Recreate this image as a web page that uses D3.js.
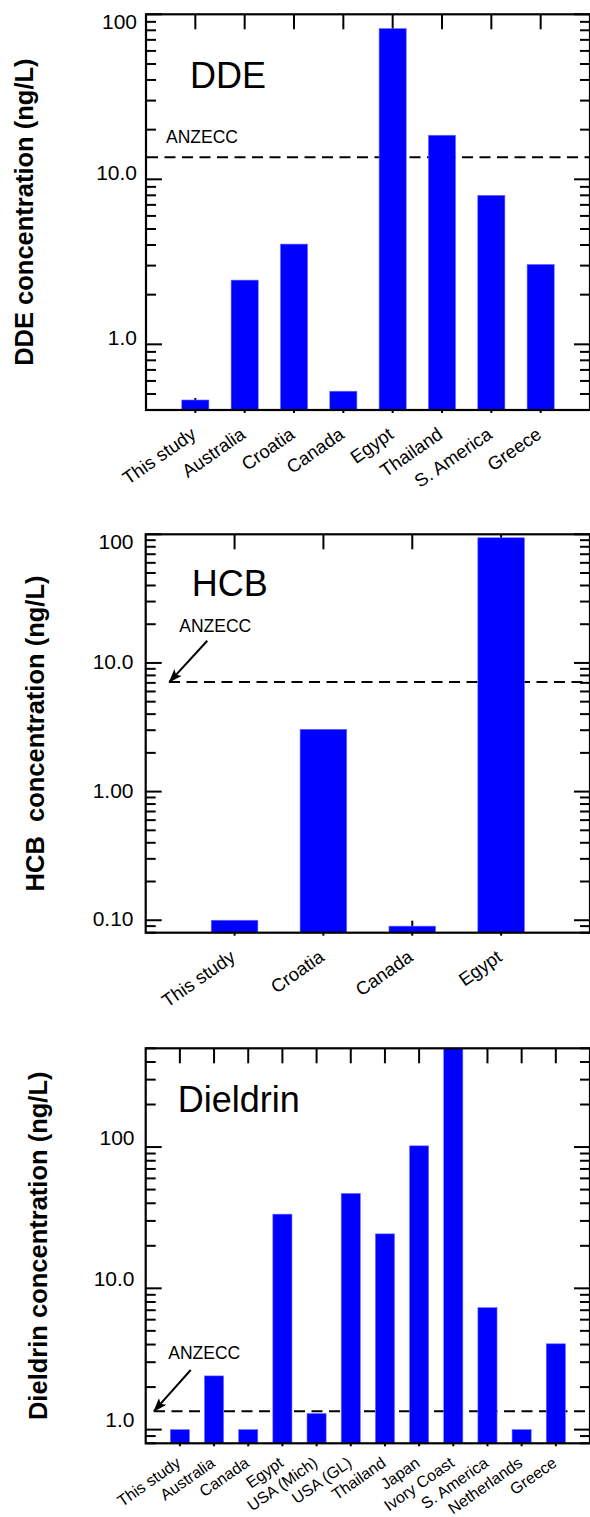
<!DOCTYPE html>
<html>
<head>
<meta charset="utf-8">
<script src="https://cdn.jsdelivr.net/npm/d3@7/dist/d3.min.js"></script>
<style>
  html, body { margin: 0; padding: 0; background: #fff; }
  svg { display: block; }
</style>
</head>
<body>
<svg id="chart" width="590" height="1517"></svg>
<script>
// ---------------- DATA ----------------
const ddeCategories = ["This study", "Australia", "Croatia", "Canada", "Egypt", "Thailand", "S. America", "Greece"];
const ddeValues = [0.46, 2.45, 4.05, 0.52, 82, 18.5, 8.0, 3.05];
const ddeAnzecc = 13.6;
const ddeDomain = [0.4, 100];
const ddeTickValues = [1, 10, 100];
const ddeTickLabels = ["1.0", "10.0", "100"];

const hcbCategories = ["This study", "Croatia", "Canada", "Egypt"];
const hcbValues = [0.10, 3.05, 0.09, 94];
const hcbAnzecc = 7.1;
const hcbDomain = [0.08, 100];
const hcbTickValues = [0.1, 1, 10, 100];
const hcbTickLabels = ["0.10", "1.00", "10.0", "100"];

const dieldrinCategories = ["This study", "Australia", "Canada", "Egypt", "USA (Mich)", "USA (GL)", "Thailand", "Japan", "Ivory Coast", "S. America", "Netherlands", "Greece"];
const dieldrinValues = [1.0, 2.4, 1.0, 33.5, 1.3, 47, 24.3, 102, 500, 7.3, 1.0, 4.05];
const dieldrinAnzecc = 1.35;
const dieldrinDomain = [0.8, 500];
const dieldrinTickValues = [1, 10, 100];
const dieldrinTickLabels = ["1.0", "10.0", "100"];

// ---------------- LAYOUT ----------------
const FONT = "'Liberation Sans', Arial, Helvetica, sans-serif";
const BLUE = "#0000ff";
const svg = d3.select("#chart");
svg.append("rect").attr("width", 590).attr("height", 1517).attr("fill", "#fff");

const defs = svg.append("defs");
defs.append("marker")
  .attr("id", "arrowhead")
  .attr("markerUnits", "userSpaceOnUse")
  .attr("markerWidth", 14).attr("markerHeight", 10)
  .attr("refX", 13).attr("refY", 5)
  .attr("orient", "auto")
  .append("path").attr("d", "M0,0 L14,5 L0,10 L3,5 Z").attr("fill", "#000");

function drawPanel(cfg) {
  const g = svg.append("g");
  const n = cfg.categories.length;
  const x = d3.scaleLinear().domain([0, n + 1]).range([cfg.left, cfg.right]);
  const y = d3.scaleLog().domain(cfg.domain).range([cfg.bottom, cfg.top]);
  const step = x(1) - x(0);
  const bw = step * cfg.barFrac;

  const clipId = "clip" + cfg.id;
  defs.append("clipPath").attr("id", clipId)
    .append("rect").attr("x", cfg.left).attr("y", cfg.top)
    .attr("width", cfg.right - cfg.left).attr("height", cfg.bottom - cfg.top);

  // ANZECC dashed line
  g.append("line")
    .attr("x1", cfg.dashStart).attr("x2", cfg.right)
    .attr("y1", y(cfg.anzecc)).attr("y2", y(cfg.anzecc))
    .attr("stroke", "#000").attr("stroke-width", 2)
    .attr("stroke-dasharray", "11,6.5");

  // Minor & major ticks on left and right (inward)
  const [lo, hi] = cfg.domain;
  const tickVals = [];
  for (let e = Math.floor(Math.log10(lo)); e <= Math.ceil(Math.log10(hi)); e++) {
    for (let m = 1; m <= 9; m++) {
      const v = m * Math.pow(10, e);
      if (v >= lo * 0.999 && v <= hi * 1.001) tickVals.push({ v, major: m === 1 });
    }
  }
  const ticksG = g.append("g").attr("stroke", "#000").attr("stroke-width", 2);
  tickVals.forEach(t => {
    const len = t.major ? 16 : 10;
    const yy = y(t.v);
    ticksG.append("line").attr("x1", cfg.left).attr("x2", cfg.left + len).attr("y1", yy).attr("y2", yy);
    ticksG.append("line").attr("x1", cfg.right).attr("x2", cfg.right - len).attr("y1", yy).attr("y2", yy);
  });
  // Category ticks top and bottom
  cfg.categories.forEach((c, i) => {
    const xx = x(i + 1);
    ticksG.append("line").attr("x1", xx).attr("x2", xx).attr("y1", cfg.top).attr("y2", cfg.top + 15);
    ticksG.append("line").attr("x1", xx).attr("x2", xx).attr("y1", cfg.bottom + 3).attr("y2", cfg.bottom - 12);
  });

  // Bars
  g.append("g").attr("clip-path", `url(#${clipId})`)
    .selectAll("rect").data(cfg.values).join("rect")
    .attr("x", (d, i) => x(i + 1) - bw / 2)
    .attr("width", bw)
    .attr("y", d => y(d))
    .attr("height", d => cfg.bottom - y(d))
    .attr("fill", BLUE)
    .attr("stroke", "#7070ff").attr("stroke-width", 0.6);

  // Frame
  g.append("rect")
    .attr("x", cfg.left).attr("y", cfg.top)
    .attr("width", cfg.right - cfg.left).attr("height", cfg.bottom - cfg.top)
    .attr("fill", "none").attr("stroke", "#000").attr("stroke-width", 2.2);

  // Y tick labels
  cfg.tickValues.forEach((v, i) => {
    let base = y(v) + cfg.labelDy;
    base = Math.max(base, cfg.top + 14.5);
    g.append("text")
      .attr("x", cfg.labelRight).attr("y", base)
      .attr("text-anchor", "end")
      .attr("font-family", FONT).attr("font-size", 21)
      .attr("fill", "#000")
      .text(cfg.tickLabels[i]);
  });

  // X category labels
  cfg.categories.forEach((c, i) => {
    const xx = x(i + 1) + cfg.xlDx;
    const yy = cfg.bottom + cfg.xlDy;
    g.append("text")
      .attr("transform", `translate(${xx},${yy}) rotate(${-cfg.xlAngle})`)
      .attr("text-anchor", "end")
      .attr("font-family", FONT).attr("font-size", cfg.xlSize)
      .attr("fill", "#000")
      .text(c);
  });

  // Y axis title
  g.append("text")
    .attr("transform", `translate(${cfg.titleX},${(cfg.top + cfg.bottom) / 2}) rotate(-90)`)
    .attr("text-anchor", "middle")
    .attr("font-family", FONT).attr("font-size", 25.5).attr("font-weight", "bold")
    .attr("fill", "#000")
    .style("white-space", "pre")
    .attr("xml:space", "preserve")
    .text(cfg.yTitle);

  // Panel title
  g.append("text")
    .attr("x", cfg.nameX).attr("y", cfg.nameY)
    .attr("font-family", FONT).attr("font-size", 36)
    .attr("fill", "#000")
    .text(cfg.name);

  // ANZECC label
  g.append("text")
    .attr("x", cfg.anzX).attr("y", cfg.anzY)
    .attr("font-family", FONT).attr("font-size", 17.5)
    .attr("fill", "#000")
    .text("ANZECC");

  if (cfg.arrow) {
    g.append("line")
      .attr("x1", cfg.arrow[0]).attr("y1", cfg.arrow[1])
      .attr("x2", cfg.arrow[2]).attr("y2", y(cfg.anzecc))
      .attr("stroke", "#000").attr("stroke-width", 2)
      .attr("marker-end", "url(#arrowhead)");
  }
}

drawPanel({
  id: 1, name: "DDE", categories: ddeCategories, values: ddeValues, anzecc: ddeAnzecc,
  domain: ddeDomain, tickValues: ddeTickValues, tickLabels: ddeTickLabels,
  left: 146, right: 590, top: 14.3, bottom: 410, barFrac: 0.55,
  labelRight: 137, labelDy: 0.5, dashStart: 147,
  xlDx: 2, xlDy: 27, xlAngle: 35, xlSize: 18.5,
  titleX: 33, yTitle: "DDE concentration (ng/L)",
  nameX: 190, nameY: 88.3, anzX: 166, anzY: 142.7, arrow: null
});

drawPanel({
  id: 2, name: "HCB", categories: hcbCategories, values: hcbValues, anzecc: hcbAnzecc,
  domain: hcbDomain, tickValues: hcbTickValues, tickLabels: hcbTickLabels,
  left: 145.7, right: 590, top: 534.3, bottom: 932.7, barFrac: 0.525,
  labelRight: 133.5, labelDy: 6, dashStart: 169,
  xlDx: 2, xlDy: 27, xlAngle: 35, xlSize: 18.5,
  titleX: 44, yTitle: "HCB  concentration (ng/L)",
  nameX: 191.7, nameY: 596, anzX: 179.3, anzY: 631.5, arrow: [207.3, 640.7, 169.3]
});

drawPanel({
  id: 3, name: "Dieldrin", categories: dieldrinCategories, values: dieldrinValues, anzecc: dieldrinAnzecc,
  domain: dieldrinDomain, tickValues: dieldrinTickValues, tickLabels: dieldrinTickLabels,
  left: 145.7, right: 590, top: 1048.3, bottom: 1443.3, barFrac: 0.56,
  labelRight: 134.5, labelDy: -2.5, dashStart: 154,
  xlDx: 2, xlDy: 22, xlAngle: 35, xlSize: 16,
  titleX: 46.7, yTitle: "Dieldrin concentration (ng/L)",
  nameX: 177.7, nameY: 1111.7, anzX: 168.3, anzY: 1359, arrow: [190.7, 1370, 154]
});
</script>
</body>
</html>
